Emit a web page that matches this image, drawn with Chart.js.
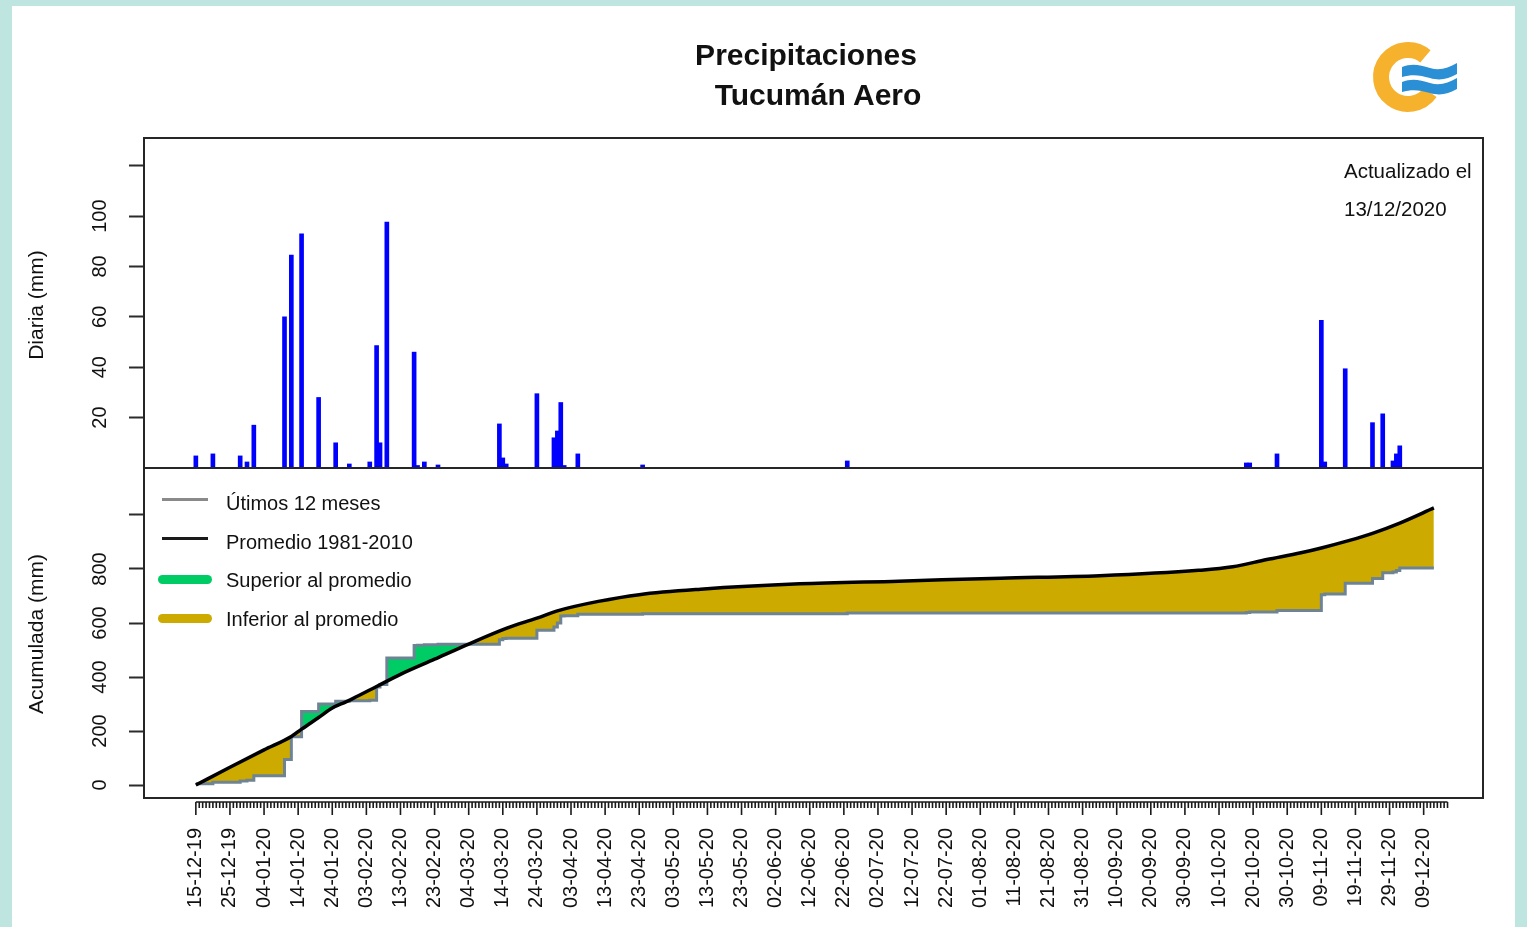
<!DOCTYPE html>
<html>
<head>
<meta charset="utf-8">
<script src="https://cdn.jsdelivr.net/npm/chart.js@4"></script>
<style>
  body { margin: 0; width: 1527px; height: 927px; overflow: hidden; background: #bfe5e1;
         font-family: "Liberation Sans", Arial, sans-serif; color: #111; }
  #hoja { position: absolute; left: 12px; top: 6px; width: 1503px; height: 921px; background: #fff; }
  #grafico { position: absolute; left: 0; top: 0; }
  .txt { position: absolute; white-space: nowrap; }
  .titulo { font-weight: bold; font-size: 30px; line-height: 34px; transform: translateX(-50%); }
  .nota { font-size: 20.5px; line-height: 24px; }
  .eje { font-size: 21px; line-height: 24px; transform: translate(-50%, -50%) rotate(-90deg); }
  .ley { font-size: 20px; line-height: 24px; }
  .linea { position: absolute; }
</style>
</head>
<body>
<div id="hoja"></div>
<canvas id="grafico" width="1527" height="927"></canvas>

<div class="txt titulo" style="left:806px; top:38px;">Precipitaciones</div>
<div class="txt titulo" style="left:818px; top:78px;">Tucumán Aero</div>

<div class="txt nota" style="left:1344px; top:159px;">Actualizado el</div>
<div class="txt nota" style="left:1344px; top:197px;">13/12/2020</div>

<div class="txt eje" style="left:36px; top:305px;">Diaria (mm)</div>
<div class="txt eje" style="left:36px; top:634px;">Acumulada (mm)</div>

<!-- leyenda -->
<div class="linea" style="left:162px; top:498px; width:46px; height:3px; background:#8a8a8a;"></div>
<div class="linea" style="left:162px; top:537px; width:46px; height:3px; background:#1a1a1a;"></div>
<div class="linea" style="left:158px; top:575px; width:54px; height:9px; border-radius:5px; background:#00cc66;"></div>
<div class="linea" style="left:158px; top:614px; width:54px; height:9px; border-radius:5px; background:#ccaa00;"></div>
<div class="txt ley" style="left:226px; top:491px;">Útimos 12 meses</div>
<div class="txt ley" style="left:226px; top:530px;">Promedio 1981-2010</div>
<div class="txt ley" style="left:226px; top:568px;">Superior al promedio</div>
<div class="txt ley" style="left:226px; top:607px;">Inferior al promedio</div>

<!-- logo -->
<svg style="position:absolute; left:1360px; top:30px;" width="110" height="95" viewBox="0 0 110 95">
  <path d="M65.4,26.3 A27,27 0 1 0 70.1,62.5" fill="none" stroke="#f6b12d" stroke-width="16"/>
  <path d="M42,37 C52,33 60,35 70,38 C80,41 88,38 97,33 L97,44 C88,49 80,51 70,48 C60,45 52,44 42,47 Z" fill="#2a8fd4"/>
  <path d="M42,52 C52,48 60,50 70,53 C80,56 88,53 97,48 L97,59 C88,64 80,66 70,63 C60,60 52,59 42,62 Z" fill="#2a8fd4"/>
</svg>

<script>
// etiquetas del eje x: una cada 10 dias desde el 15-12-19
const fechas = ['15-12-19', '25-12-19', '04-01-20', '14-01-20', '24-01-20', '03-02-20', '13-02-20',
  '23-02-20', '04-03-20', '14-03-20', '24-03-20', '03-04-20', '13-04-20', '23-04-20', '03-05-20',
  '13-05-20', '23-05-20', '02-06-20', '12-06-20', '22-06-20', '02-07-20', '12-07-20', '22-07-20',
  '01-08-20', '11-08-20', '21-08-20', '31-08-20', '10-09-20', '20-09-20', '30-09-20', '10-10-20',
  '20-10-20', '30-10-20', '09-11-20', '19-11-20', '29-11-20', '09-12-20'];

// lluvia diaria (dia desde 15-12-19, mm)
const diasLluvia = [0, 5, 13, 15, 17, 26, 28, 31, 36, 41, 45, 51, 53, 54, 56, 64, 65, 67, 71,
  89, 90, 91, 100, 105, 106, 107, 108, 112, 131, 191,
  308, 309, 317, 330, 331, 337, 345, 348, 351, 352, 353];
const mmLluvia = [4.8, 5.6, 4.8, 2.4, 17, 60, 84.5, 93, 28, 10, 1.6, 2.4, 48.6, 10, 97.6, 46, 1, 2.4, 1.2,
  17.5, 4, 1.6, 29.5, 12, 14.7, 26, 1, 5.6, 1.2, 2.8,
  2, 2, 5.6, 58.6, 2.4, 39.4, 18, 21.5, 2.8, 5.6, 8.8];

// promedio acumulado 1981-2010
const diasPromedio = [0, 10, 20, 28, 31, 36, 40, 44, 46, 53, 60, 70, 80, 91, 100, 106, 118, 130,
  148, 177, 206, 236, 265, 294, 304, 314, 324, 330, 338, 345, 353, 363];
const mmPromedio = [0, 66, 130, 180, 207, 250, 285, 308, 320, 365, 410, 466, 522, 580, 618, 645, 680, 705,
  725, 745, 755, 766, 775, 795, 808, 835, 860, 878, 905, 932, 970, 1026];

const ultimoDato = 363;
const ultimoTick = 367;

const ticksDiaria = [20, 40, 60, 80, 100, 120];
const etiquetasDiaria = ['20', '40', '60', '80', '100', ''];
const ticksAcum = [0, 200, 400, 600, 800, 1000];
const etiquetasAcum = ['0', '200', '400', '600', '800', ''];

// acumulado de los ultimos 12 meses
let suma = 0;
const acumulada = diasLluvia.map((d, i) => ({ x: d, y: (suma += mmLluvia[i]) }));
acumulada.push({ x: ultimoDato, y: suma });

const diasTicks = [];
for (let d = 0; d <= ultimoTick; d++) diasTicks.push(d);

const fuente = '"Liberation Sans", Arial, sans-serif';
Chart.defaults.font.family = fuente;
Chart.defaults.color = '#111';

// marcos de los paneles, eje x al estilo R y etiquetas y giradas
const estiloR = {
  id: 'estiloR',
  afterDraw(chart) {
    const { ctx, scales: { x, yD, yA } } = chart;
    ctx.save();
    ctx.strokeStyle = '#262626';
    ctx.lineWidth = 2;
    ctx.strokeRect(x.left, yD.top, x.right - x.left, yD.bottom - yD.top);
    ctx.strokeRect(x.left, yA.top, x.right - x.left, yA.bottom - yA.top);

    const y0 = yA.bottom + 4;
    ctx.strokeStyle = '#1a1a1a';
    ctx.lineWidth = 1.6;
    ctx.beginPath();
    ctx.moveTo(x.getPixelForValue(0), y0);
    ctx.lineTo(x.getPixelForValue(ultimoTick), y0);
    x.ticks.forEach(t => {
      const px = x.getPixelForValue(t.value);
      ctx.moveTo(px, y0);
      ctx.lineTo(px, y0 + (t.value % 10 === 0 ? 13 : 6));
    });
    ctx.stroke();

    ctx.fillStyle = '#111';
    ctx.font = '20px ' + fuente;
    ctx.textAlign = 'center';
    ctx.textBaseline = 'middle';
    [[yD, ticksDiaria, etiquetasDiaria], [yA, ticksAcum, etiquetasAcum]].forEach(([s, vals, labs]) => {
      vals.forEach((v, i) => {
        ctx.save();
        ctx.translate(100, s.getPixelForValue(v));
        ctx.rotate(-Math.PI / 2);
        ctx.fillText(labs[i], 0, 0);
        ctx.restore();
      });
    });
    ctx.restore();
  }
};

const ejeY = (valores, min, max, peso) => ({
  type: 'linear', position: 'left', stack: 'paneles', stackWeight: 1, weight: peso,
  min, max,
  afterBuildTicks: s => { s.ticks = valores.map(v => ({ value: v })); },
  afterFit: s => { s.width = 144; },
  ticks: { display: false },
  grid: { drawOnChartArea: false, drawTicks: true, tickLength: 15, tickColor: '#2b2b2b', tickWidth: 2 },
  border: { display: false }
});

new Chart(document.getElementById('grafico'), {
  type: 'line',
  data: {
    datasets: [
      {
        type: 'bar', label: 'Diaria', yAxisID: 'yD',
        data: diasLluvia.map((d, i) => ({ x: d, y: mmLluvia[i] })),
        backgroundColor: '#0000ff', barThickness: 4
      },
      {
        label: 'Promedio 1981-2010', yAxisID: 'yA',
        data: diasPromedio.map((d, i) => ({ x: d, y: mmPromedio[i] })),
        borderColor: '#000', borderWidth: 3.5, pointRadius: 0,
        cubicInterpolationMode: 'monotone', fill: false
      },
      {
        label: 'Útimos 12 meses', yAxisID: 'yA',
        data: acumulada,
        borderColor: '#6e8494', borderWidth: 3, pointRadius: 0, stepped: 'before',
        fill: { target: 1, above: '#00cc66', below: '#ccaa00' }
      }
    ]
  },
  options: {
    responsive: false,
    animation: false,
    events: [],
    layout: { padding: { top: 138, right: 44, left: 0, bottom: 0 } },
    plugins: { legend: { display: false }, tooltip: { enabled: false } },
    scales: {
      x: {
        type: 'linear', min: -15.2, max: 377.4, offset: false,
        afterBuildTicks: s => { s.ticks = diasTicks.map(v => ({ value: v })); },
        afterFit: s => { s.height = 129; },
        grid: { display: true, drawOnChartArea: false, drawTicks: true, tickLength: 18, tickColor: 'rgba(0,0,0,0)' },
        border: { display: false },
        ticks: {
          autoSkip: false, minRotation: 90, maxRotation: 90, padding: 12,
          font: { size: 20 }, color: '#111',
          callback: v => (v % 10 === 0 ? fechas[v / 10] : '')
        }
      },
      yA: ejeY(ticksAcum, -48, 1174, 0),
      yD: ejeY(ticksDiaria, 0, 131, 1)
    }
  },
  plugins: [estiloR]
});
</script>
</body>
</html>
